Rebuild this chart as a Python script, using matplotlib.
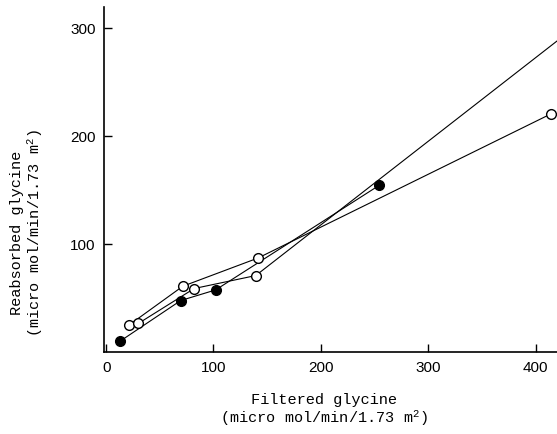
import matplotlib
matplotlib.use("Agg")
import matplotlib.pyplot as plt

plt.rcParams['mathtext.default'] = 'regular'

# filled circles, joined in order
filled_x = [13, 69.5, 102, 254.5]
filled_y = [10, 47.6, 57.4, 154.2]

# open circles, two runs joined in order (last point of run B lies past the axis)
openA_x = [21.7, 71.4, 141.5, 414]
openA_y = [25.2, 60.8, 86.9, 220]
openB_x = [30, 82, 139.4, 440]
openB_y = [26.4, 58.7, 70.7, 303]

xticks = [0, 100, 200, 300, 400]
yticks = [100, 200, 300]

fig = plt.figure(figsize=(5.57, 4.35), dpi=100)
ax = fig.add_axes([0.1867, 0.1885, 0.8133, 0.7931])

for xs, ys in [(filled_x, filled_y), (openA_x, openA_y), (openB_x, openB_y)]:
    ax.plot(xs, ys, '-', color='black', lw=0.8, zorder=2)

ax.plot(openA_x, openA_y, 'o', ms=7, mfc='white', mec='black', mew=1.0, zorder=3)
ax.plot(openB_x, openB_y, 'o', ms=7, mfc='white', mec='black', mew=1.0, zorder=3)
ax.plot(filled_x, filled_y, 'o', ms=7, mfc='black', mec='black', zorder=4)

ax.set_xlim(-2, 420)
ax.set_ylim(0, 319)
ax.set_xticks(xticks)
ax.set_yticks(yticks)
ax.spines['top'].set_visible(False)
ax.spines['right'].set_visible(False)
for s in ['left', 'bottom']:
    ax.spines[s].set_linewidth(1.2)
ax.tick_params(direction='in', length=6, width=1, labelsize=11, pad=6)
for lab in ax.get_xticklabels() + ax.get_yticklabels():
    lab.set_family('Liberation Sans')

mono = 'Liberation Mono'
fig.text(0.582, 0.057, 'Filtered glycine\n(micro mol/min/1.73 m$^2$)',
         ha='center', va='center', family=mono, fontsize=11, linespacing=1.1)
fig.text(0.050, 0.465, 'Reabsorbed glycine\n(micro mol/min/1.73 m$^2$)',
         ha='center', va='center', rotation=90, family=mono, fontsize=11,
         linespacing=1.1)

fig.savefig('out.png', dpi=100)
